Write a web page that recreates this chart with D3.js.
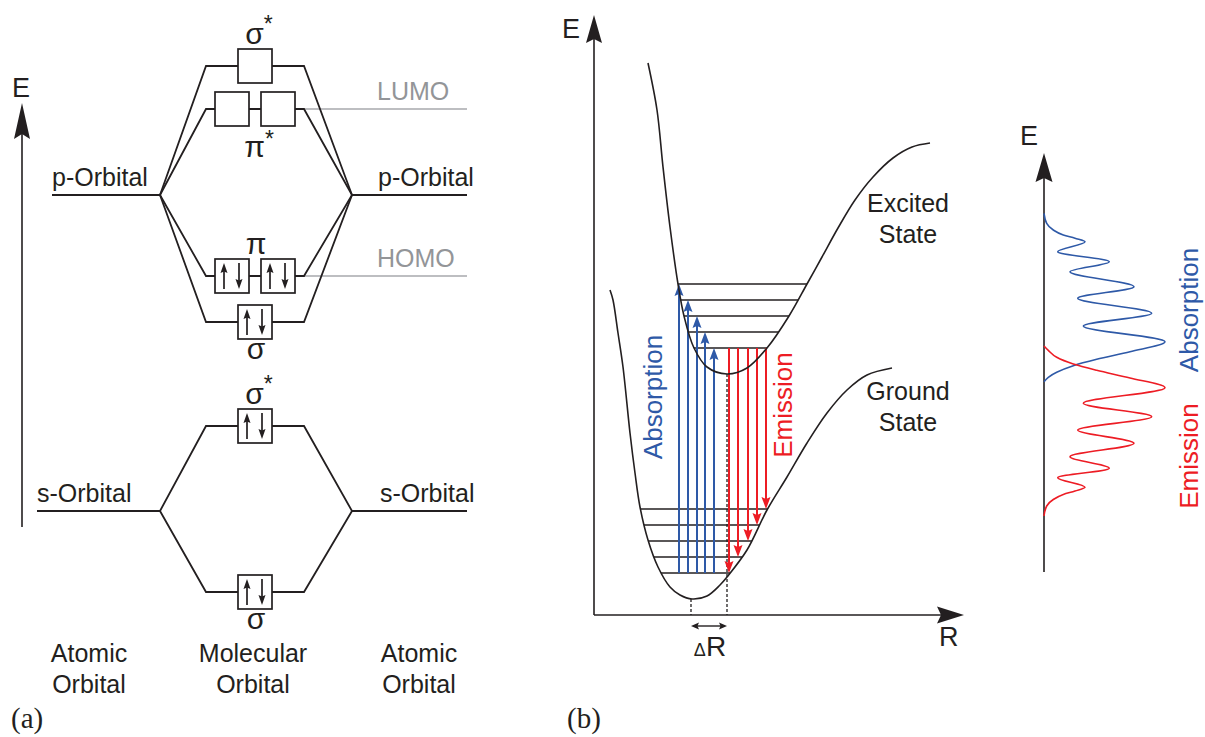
<!DOCTYPE html>
<html>
<head>
<meta charset="utf-8">
<script src="https://cdn.jsdelivr.net/npm/d3@7"></script>
<style>
  html, body { margin: 0; padding: 0; background: #fff; }
  svg text { font-family: "Liberation Sans", Arial, Helvetica, sans-serif; }
</style>
</head>
<body>
<svg id="chart" width="1205" height="737"></svg>
<script>
// ---------------- Panel (a): molecular orbital diagram ----------------
const atomicOrbitals = ["p-Orbital", "s-Orbital"];
const atomicEnergies = [42.5, 10.9];
const moSymbols = ["σ", "π", "π", "σ", "σ", "σ"];
const moAntibonding = [true, true, false, false, true, false];
const moEnergies = [55.4, 51.1, 34.4, 29.8, 19.4, 2.8];
const moBoxCount = [1, 2, 2, 1, 1, 1];
const moFilled = [false, false, true, true, true, true];   // box holds a spin pair
const moParent = [0, 0, 0, 0, 1, 1];                         // index into atomicOrbitals
const moLabelSide = ["above", "below", "above", "below", "above", "below"];
const frontierTags = ["LUMO", "HOMO"];
const frontierOrbital = [1, 2];
const columnTitles = [["Atomic", "Orbital"], ["Molecular", "Orbital"], ["Atomic", "Orbital"]];

// ---------------- Panel (b): potential energy curves ----------------
const groundR  = [1.6, 1.9, 2.4, 2.9, 3.6, 4.1, 4.6, 5.4, 6.4, 7.6, 8.6, 9.8, 11.3, 12.6, 13.3, 15.3, 17.3, 19.3, 21.3, 23.3, 25.3, 27.3, 29.8];
const groundE  = [32.5, 31.5, 28.2, 24.8, 18.2, 14.2, 10.8, 7.5, 4.8, 2.8, 2.0, 1.6, 1.9, 3.0, 3.8, 6.5, 10.5, 13.8, 17.2, 20.2, 22.5, 24.0, 24.7];
const excitedR = [5.4, 6.3, 6.9, 7.6, 8.4, 9.0, 10.0, 11.3, 13.3, 15.3, 17.3, 19.5, 21.3, 22.8, 24.4, 26.1, 27.9, 29.9, 31.8, 33.6];
const excitedE = [55.2, 50.5, 44.8, 38.8, 33.1, 29.9, 26.7, 24.8, 24.1, 24.7, 26.7, 29.9, 33.1, 35.8, 38.7, 41.5, 43.8, 45.7, 46.8, 47.2];
const groundLevels  = [10.6, 9.0, 7.4, 5.8, 4.2];
const excitedLevels = [33.1, 31.5, 29.9, 28.3, 26.7];
const absorptionR = [8.5, 9.4, 10.3, 11.1, 12.0];
const emissionR   = [13.5, 14.4, 15.4, 16.3, 17.2];
const groundMin  = [9.7, 1.6];
const excitedMin = [13.3, 24.1];

// ---------------- Spectrum: absorption / emission bands ----------------
const absorptionE = [19.03, 19.47, 19.97, 20.63, 21.27, 22.03, 23.03, 24.6, 25.87, 27.37, 28.53, 30.03, 31.03, 32.03, 33.03, 33.37, 33.7, 34.2, 34.87, 35.87];
const absorptionI = [0, 0.43, 1.27, 2.93, 5.27, 8.6, 12.1, 3.93, 10.77, 3.37, 9.0, 2.6, 6.53, 1.37, 4.1, 3.1, 1.93, 0.93, 0.27, 0];
const emissionE = [5.6, 6.6, 7.25, 7.75, 8.1, 8.47, 9.43, 10.37, 11.53, 12.87, 14.2, 15.53, 16.87, 18.43, 19.4, 20.17, 20.8, 21.47, 22.16, 22.6];
const emissionI = [0, 0.27, 0.93, 1.93, 3.1, 4.1, 1.37, 6.53, 2.6, 9.0, 3.37, 10.77, 3.93, 12.1, 8.6, 5.27, 2.93, 1.27, 0.43, 0];

// ---------------- styling ----------------
const ink = "#231f20";
const blue = "#2e59a7";
const red = "#ed1c24";
const grayLine = "#a7a9ac";
const grayText = "#939598";

const svg = d3.select("#chart");

// Arrowhead with a slightly notched back; tip at (x,y), angle 0 = pointing up
function arrowHead(g, x, y, angle, L, w, notch, color) {
  g.append("path")
    .attr("d", `M0,0 L${-w / 2},${L} L0,${L - notch} L${w / 2},${L} Z`)
    .attr("transform", `translate(${x},${y}) rotate(${angle})`)
    .attr("fill", color);
}

// =====================================================================
// Panel (a)
// =====================================================================
const gA = svg.append("g");
const yA = d3.scaleLinear().domain([0, 60]).range([620, 20]);
const col = { leftJoin: 160, moLeft: 206, moRight: 304, rightJoin: 352, rightEnd: 467, boxMid: 255, box: 34, pairOffset: 23 };
const leftLineStart = [52, 37];
const rightLabelX = [378, 380];

// energy axis
gA.append("line").attr("x1", 22).attr("x2", 22).attr("y1", 527).attr("y2", 130)
  .attr("stroke", ink).attr("stroke-width", 1.6);
arrowHead(gA, 22, 103, 0, 36, 16, 5, ink);
gA.append("text").attr("x", 12).attr("y", 97).attr("font-size", 27).attr("fill", ink).text("E");

// atomic levels and labels
atomicEnergies.forEach((E, i) => {
  const y = yA(E);
  gA.append("line").attr("x1", leftLineStart[i]).attr("x2", col.leftJoin).attr("y1", y).attr("y2", y)
    .attr("stroke", ink).attr("stroke-width", 1.8);
  gA.append("line").attr("x1", col.rightJoin).attr("x2", col.rightEnd).attr("y1", y).attr("y2", y)
    .attr("stroke", ink).attr("stroke-width", 1.8);
  gA.append("text").attr("x", leftLineStart[i]).attr("y", y - 9).attr("font-size", 25).attr("fill", ink).text(atomicOrbitals[i]);
  gA.append("text").attr("x", rightLabelX[i]).attr("y", y - 9).attr("font-size", 25).attr("fill", ink).text(atomicOrbitals[i]);
});

// frontier orbital markers (gray)
frontierTags.forEach((tag, k) => {
  const y = yA(moEnergies[frontierOrbital[k]]);
  gA.append("line").attr("x1", col.moRight).attr("x2", col.rightEnd).attr("y1", y).attr("y2", y)
    .attr("stroke", grayLine).attr("stroke-width", 1.5);
  gA.append("text").attr("x", 377).attr("y", y - 9).attr("font-size", 25).attr("fill", grayText).text(tag);
});

// correlation lines from atomic to molecular levels
moEnergies.forEach((E, i) => {
  const y = yA(E), yp = yA(atomicEnergies[moParent[i]]);
  gA.append("path")
    .attr("d", `M${col.leftJoin},${yp} L${col.moLeft},${y} L${col.moRight},${y} L${col.rightJoin},${yp}`)
    .attr("fill", "none").attr("stroke", ink).attr("stroke-width", 1.8).attr("stroke-linejoin", "miter");
});

// orbital boxes with electrons
moEnergies.forEach((E, i) => {
  const y = yA(E);
  const centers = moBoxCount[i] === 1 ? [col.boxMid] : [col.boxMid - col.pairOffset, col.boxMid + col.pairOffset];
  centers.forEach(cx => {
    const bx = cx - col.box / 2, by = y - col.box / 2;
    gA.append("rect").attr("x", bx).attr("y", by).attr("width", col.box).attr("height", col.box)
      .attr("fill", "#fff").attr("stroke", ink).attr("stroke-width", 1.7);
    if (moFilled[i]) {
      // spin up
      gA.append("line").attr("x1", bx + 9).attr("x2", bx + 9).attr("y1", by + 30).attr("y2", by + 12)
        .attr("stroke", ink).attr("stroke-width", 1.7);
      arrowHead(gA, bx + 9, by + 4, 0, 10, 7, 1.5, ink);
      // spin down
      gA.append("line").attr("x1", bx + 24).attr("x2", bx + 24).attr("y1", by + 4).attr("y2", by + 22)
        .attr("stroke", ink).attr("stroke-width", 1.7);
      arrowHead(gA, bx + 24, by + 30, 180, 10, 7, 1.5, ink);
    }
  });
  const star = moAntibonding[i];
  const lx = star ? col.boxMid + 4 : col.boxMid + 1;
  const ly = moLabelSide[i] === "above" ? y - col.box / 2 - 5 : y + col.box / 2 + (star ? 31 : 20);
  const t = gA.append("text").attr("x", lx).attr("y", ly).attr("text-anchor", "middle").attr("fill", ink);
  t.append("tspan").attr("font-size", 30).text(moSymbols[i]);
  if (star) t.append("tspan").attr("font-size", 23).attr("dy", moLabelSide[i] === "above" ? -12 : -10).text("*");
});

// column titles
const titleX = [89, 253, 419];
columnTitles.forEach((lines, i) => {
  lines.forEach((t, j) => {
    gA.append("text").attr("x", titleX[i]).attr("y", 662 + j * 31).attr("text-anchor", "middle")
      .attr("font-size", 25).attr("fill", ink).text(t);
  });
});

svg.append("text").attr("x", 11).attr("y", 728).attr("font-size", 29)
  .style("font-family", "'Liberation Serif', 'DejaVu Serif', serif").attr("fill", ink).text("(a)");
svg.append("text").attr("x", 567).attr("y", 728).attr("font-size", 29)
  .style("font-family", "'Liberation Serif', 'DejaVu Serif', serif").attr("fill", ink).text("(b)");

// =====================================================================
// Panel (b)
// =====================================================================
const gB = svg.append("g");
const xB = d3.scaleLinear().domain([0, 37]).range([594, 964]);
const yB = d3.scaleLinear().domain([0, 60]).range([615, 15]);

const ground = groundR.map((r, i) => [r, groundE[i]]);
const excited = excitedR.map((r, i) => [r, excitedE[i]]);
const curve = d3.line().x(d => xB(d[0])).y(d => yB(d[1])).curve(d3.curveCatmullRom.alpha(0.5));

// clip regions bounded by each well
const defs = svg.append("defs");
defs.append("clipPath").attr("id", "groundWell").append("path").attr("d", curve(ground) + "Z");
defs.append("clipPath").attr("id", "excitedWell").append("path").attr("d", curve(excited) + "Z");

// axes
gB.append("line").attr("x1", xB(0)).attr("x2", xB(0)).attr("y1", yB(0)).attr("y2", yB(60) + 24)
  .attr("stroke", ink).attr("stroke-width", 1.6);
arrowHead(gB, xB(0), yB(60), 0, 28, 16, 4, ink);
gB.append("line").attr("x1", xB(0)).attr("x2", xB(37) - 23).attr("y1", yB(0)).attr("y2", yB(0))
  .attr("stroke", ink).attr("stroke-width", 1.6);
arrowHead(gB, xB(37), yB(0), 90, 27, 17, 4, ink);
gB.append("text").attr("x", 562).attr("y", 38).attr("font-size", 27).attr("fill", ink).text("E");
gB.append("text").attr("x", 939).attr("y", 646).attr("font-size", 27).attr("fill", ink).text("R");

// vibrational levels
gB.append("g").attr("clip-path", "url(#groundWell)").selectAll("line").data(groundLevels).join("line")
  .attr("x1", xB(0)).attr("x2", xB(37)).attr("y1", d => yB(d)).attr("y2", d => yB(d))
  .attr("stroke", ink).attr("stroke-width", 1.5);
gB.append("g").attr("clip-path", "url(#excitedWell)").selectAll("line").data(excitedLevels).join("line")
  .attr("x1", xB(0)).attr("x2", xB(37)).attr("y1", d => yB(d)).attr("y2", d => yB(d))
  .attr("stroke", ink).attr("stroke-width", 1.5);

// equilibrium separations
[groundMin, excitedMin].forEach(m => {
  gB.append("line").attr("x1", xB(m[0])).attr("x2", xB(m[0])).attr("y1", yB(m[1])).attr("y2", yB(0))
    .attr("stroke", ink).attr("stroke-width", 1.3).attr("stroke-dasharray", "3,2");
});
const yDR = yB(-1.1);
gB.append("line").attr("x1", xB(groundMin[0]) + 6).attr("x2", xB(excitedMin[0]) - 6).attr("y1", yDR).attr("y2", yDR)
  .attr("stroke", ink).attr("stroke-width", 1.4);
arrowHead(gB, xB(groundMin[0]), yDR, -90, 8, 7, 1.5, ink);
arrowHead(gB, xB(excitedMin[0]), yDR, 90, 8, 7, 1.5, ink);
const dR = gB.append("text").attr("x", (xB(groundMin[0]) + xB(excitedMin[0])) / 2 + 1).attr("y", 656)
  .attr("text-anchor", "middle").attr("fill", ink);
dR.append("tspan").attr("font-size", 18).text("Δ");
dR.append("tspan").attr("font-size", 28).text("R");

// absorption transitions
absorptionR.forEach((r, i) => {
  const yTip = yB(excitedLevels[i]);
  gB.append("line").attr("x1", xB(r)).attr("x2", xB(r)).attr("y1", yB(groundLevels[4])).attr("y2", yTip + 10)
    .attr("stroke", blue).attr("stroke-width", 2);
  arrowHead(gB, xB(r), yTip, 0, 12, 9, 2, blue);
});
// emission transitions
emissionR.forEach((r, i) => {
  const yTip = yB(groundLevels[4 - i]);
  gB.append("line").attr("x1", xB(r)).attr("x2", xB(r)).attr("y1", yB(excitedLevels[4])).attr("y2", yTip - 10)
    .attr("stroke", red).attr("stroke-width", 2);
  arrowHead(gB, xB(r), yTip, 180, 12, 9, 2, red);
});

// potential curves
gB.append("path").attr("d", curve(ground)).attr("fill", "none").attr("stroke", ink).attr("stroke-width", 1.6);
gB.append("path").attr("d", curve(excited)).attr("fill", "none").attr("stroke", ink).attr("stroke-width", 1.6);

gB.append("text").attr("x", 908).attr("y", 212).attr("text-anchor", "middle").attr("font-size", 25).attr("fill", ink).text("Excited");
gB.append("text").attr("x", 908).attr("y", 243).attr("text-anchor", "middle").attr("font-size", 25).attr("fill", ink).text("State");
gB.append("text").attr("x", 908).attr("y", 400).attr("text-anchor", "middle").attr("font-size", 25).attr("fill", ink).text("Ground");
gB.append("text").attr("x", 908).attr("y", 431).attr("text-anchor", "middle").attr("font-size", 25).attr("fill", ink).text("State");

gB.append("text").attr("transform", "translate(662,397) rotate(-90)").attr("text-anchor", "middle")
  .attr("font-size", 26).attr("fill", blue).text("Absorption");
gB.append("text").attr("transform", "translate(792,405) rotate(-90)").attr("text-anchor", "middle")
  .attr("font-size", 26).attr("fill", red).text("Emission");

// =====================================================================
// Spectrum
// =====================================================================
const gS = svg.append("g");
const yS = d3.scaleLinear().domain([0, 41.9]).range([572, 153]);
const xS = d3.scaleLinear().domain([0, 13]).range([1044, 1174]);

gS.append("line").attr("x1", xS(0)).attr("x2", xS(0)).attr("y1", yS(0)).attr("y2", yS(41.9) + 24)
  .attr("stroke", ink).attr("stroke-width", 1.6);
arrowHead(gS, xS(0), yS(41.9), 0, 29, 17, 4, ink);
gS.append("text").attr("x", 1020).attr("y", 145).attr("font-size", 27).attr("fill", ink).text("E");

const band = d3.line().x(d => xS(d[1])).y(d => yS(d[0])).curve(d3.curveMonotoneY);
gS.append("path").attr("d", band(absorptionE.map((e, i) => [e, absorptionI[i]])))
  .attr("fill", "none").attr("stroke", blue).attr("stroke-width", 1.6);
gS.append("path").attr("d", band(emissionE.map((e, i) => [e, emissionI[i]])))
  .attr("fill", "none").attr("stroke", red).attr("stroke-width", 1.6);

gS.append("text").attr("transform", "translate(1198,310) rotate(-90)").attr("text-anchor", "middle")
  .attr("font-size", 26).attr("fill", blue).text("Absorption");
gS.append("text").attr("transform", "translate(1198,456) rotate(-90)").attr("text-anchor", "middle")
  .attr("font-size", 26).attr("fill", red).text("Emission");
</script>
</body>
</html>
